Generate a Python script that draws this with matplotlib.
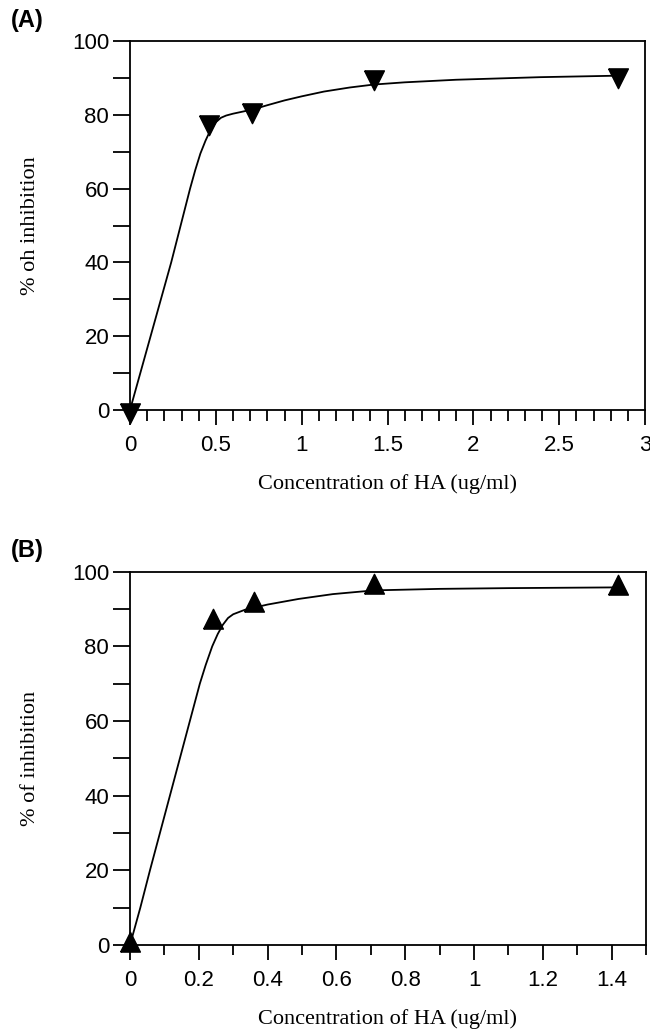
import matplotlib
matplotlib.use('Agg')
import matplotlib.pyplot as plt
from matplotlib.ticker import MultipleLocator, FixedLocator

# Panel A data (measured points)
conc_a = [0, 0.46, 0.71, 1.42, 2.84]
inhib_a = [0, 78.0, 81.3, 90.3, 90.7]
# Panel A fitted curve
fit_x_a = [0, 0.06, 0.12, 0.18, 0.24, 0.295, 0.35, 0.38, 0.41, 0.44, 0.47,
           0.50, 0.53, 0.56, 0.6, 0.72, 0.8, 0.9, 1.0, 1.13, 1.28, 1.42, 1.6,
           1.9, 2.39, 2.84]
fit_y_a = [0, 10, 20, 30, 40, 50, 60, 65, 69.5, 73, 76, 78, 79.2, 79.8, 80.3,
           81.5, 82.6, 83.9, 85.0, 86.3, 87.4, 88.2, 88.8, 89.5, 90.2, 90.6]

# Panel B data
conc_b = [0, 0.24, 0.36, 0.71, 1.42]
inhib_b = [0, 86.4, 91.0, 96.0, 95.6]
fit_x_b = [0, 0.03, 0.058, 0.087, 0.116, 0.145, 0.174, 0.203, 0.22, 0.239,
           0.255, 0.27, 0.285, 0.30, 0.334, 0.40, 0.49, 0.59, 0.71, 0.9, 1.1,
           1.42]
fit_y_b = [0, 10, 20, 30, 40, 50, 60, 70, 75, 80, 83.3, 85.8, 87.6, 88.6,
           89.8, 91.2, 92.7, 94.0, 95.0, 95.4, 95.6, 95.8]

xlabel = 'Concentration of HA (ug/ml)'

# triangles centred on their centroid
tri_down = [(-1, 2 / 3), (1, 2 / 3), (0, -4 / 3), (-1, 2 / 3)]
tri_up = [(-1, -2 / 3), (1, -2 / 3), (0, 4 / 3), (-1, -2 / 3)]

plt.rcParams['font.family'] = 'Liberation Sans'
plt.rcParams['axes.linewidth'] = 1.3

fig = plt.figure(figsize=(6.5, 10.3), dpi=100)
ax_a = fig.add_axes([130 / 650, 1 - 410 / 1030, 515 / 650, 369 / 1030])
ax_b = fig.add_axes([130 / 650, 1 - 945 / 1030, 516 / 650, 373.3 / 1030])


def style(ax, xmax, xminor, xticks, ylabel, minor_len):
    ax.set_xlim(0, xmax)
    ax.set_ylim(0, 100)
    ax.xaxis.set_major_locator(FixedLocator(xticks))
    ax.xaxis.set_minor_locator(MultipleLocator(xminor))
    ax.yaxis.set_major_locator(MultipleLocator(20))
    ax.yaxis.set_minor_locator(MultipleLocator(10))
    ax.tick_params(axis='both', which='both', direction='out', width=1.3,
                   top=False, right=False, labelsize=16)
    ax.tick_params(axis='x', which='major', length=11, pad=7)
    ax.tick_params(axis='x', which='minor', length=minor_len)
    ax.tick_params(axis='y', which='both', length=12, pad=3)
    ax.set_xlabel(xlabel, family='Liberation Serif', fontsize=16, labelpad=13)
    ax.set_ylabel(ylabel, family='Liberation Serif', fontsize=16)
    ax.yaxis.set_label_coords(-0.175, 0.5)


ax_a.plot(fit_x_a, fit_y_a, color='black', lw=1.3)
ax_a.plot(conc_a, inhib_a, linestyle='none', marker=tri_down, ms=19,
          color='black', clip_on=False, zorder=3)
style(ax_a, 3, 0.1, [0, 0.5, 1, 1.5, 2, 2.5, 3], '% oh inhibition', 8)
ax_a.set_xticklabels(['0', '0.5', '1', '1.5', '2', '2.5', '3'])

ax_b.plot(fit_x_b, fit_y_b, color='black', lw=1.3)
ax_b.plot(conc_b, inhib_b, linestyle='none', marker=tri_up, ms=19,
          color='black', clip_on=False, zorder=3)
style(ax_b, 1.5, 0.1, [0, 0.2, 0.4, 0.6, 0.8, 1, 1.2, 1.4], '% of inhibition', 7)
ax_b.set_xticklabels(['0', '0.2', '0.4', '0.6', '0.8', '1', '1.2', '1.4'])

fig.text(11 / 650, 1 - 9 / 1030, '(A)', fontsize=17, fontweight='bold', va='top')
fig.text(11 / 650, 1 - 539 / 1030, '(B)', fontsize=17, fontweight='bold', va='top')

fig.savefig('out.png', dpi=100)
